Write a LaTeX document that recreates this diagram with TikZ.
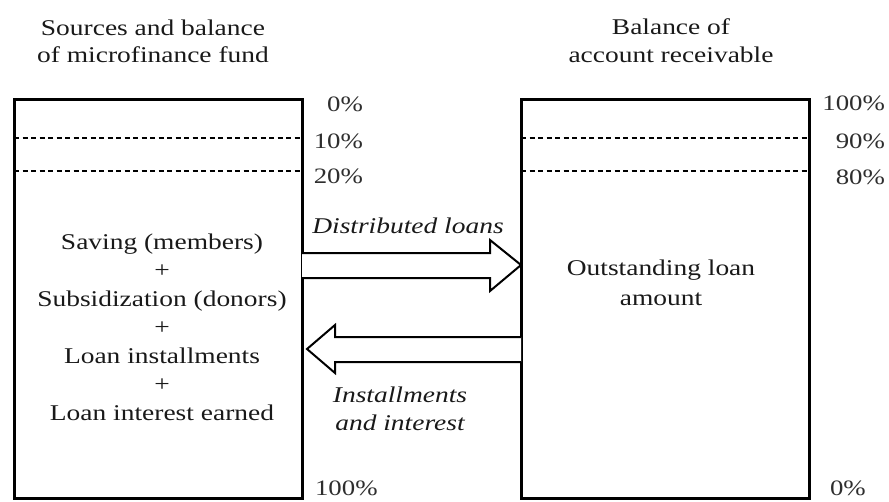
\documentclass[tikz,border=0pt]{standalone}
\usepackage{fontspec}
\setmainfont{Liberation Serif}[FakeStretch=1.22]
\begin{document}
\begin{tikzpicture}[x=1pt,y=-1pt,
  every node/.style={inner sep=0pt, outer sep=0pt},
  lbl/.style={font=\fontsize{22.5}{27}\selectfont, text=black!90},
  itl/.style={font=\fontsize{22.5}{27}\selectfont\itshape, text=black!90},
  pct/.style={font=\fontsize{22}{26}\selectfont, text=black!82},
  frame/.style={draw, line width=3pt, minimum width=288pt, minimum height=399pt, anchor=north west},
  divider/.style={line width=1.4pt, dash pattern=on 5pt off 3.5pt},
  flow/.style={draw, line width=2pt, line join=miter, fill=white}]
\useasboundingbox (0,0) rectangle (889,501);
\clip (0,0) rectangle (889,501);

% the two balance columns
\node[frame] (fund) at (14,99) {};
\node[frame] (recv) at (521,99) {};

% 10% / 20% bands
\draw[divider] (fund.west |- 0,138) -- (fund.east |- 0,138);
\draw[divider] (fund.west |- 0,171) -- (fund.east |- 0,171);
\draw[divider] (recv.west |- 0,138) -- (recv.east |- 0,138);
\draw[divider] (recv.west |- 0,171) -- (recv.east |- 0,171);

% column titles
\node[lbl, anchor=base] (t1a) at (153,35) {Sources and balance};
\node[lbl, anchor=base] (t1b) at (153,62) {of microfinance fund};
\node[lbl, anchor=base] (t2a) at (671,34) {Balance of};
\node[lbl, anchor=base] (t2b) at (671,62) {account receivable};

% scale marks
\node[pct, anchor=base east] (p0) at (363,111) {0\%};
\node[pct, anchor=base east] (p10) at (363,148) {10\%};
\node[pct, anchor=base east] (p20) at (363,183) {20\%};
\node[pct, anchor=base west] (p100) at (315,495) {100\%};
\node[pct, anchor=base east] (q100) at (885,110) {100\%};
\node[pct, anchor=base east] (q90) at (885,148) {90\%};
\node[pct, anchor=base east] (q80) at (885,184) {80\%};
\node[pct, anchor=base west] (q0) at (830,495) {0\%};

% fund contents
\node[lbl, anchor=base] (s1) at (162,249) {Saving (members)};
\node[lbl, anchor=base] (s2) at (162,277) {+};
\node[lbl, anchor=base] (s3) at (162,306) {Subsidization (donors)};
\node[lbl, anchor=base] (s4) at (162,334) {+};
\node[lbl, anchor=base] (s5) at (162,363) {Loan installments};
\node[lbl, anchor=base] (s6) at (162,391) {+};
\node[lbl, anchor=base] (s7) at (162,420) {Loan interest earned};

% receivable contents
\node[lbl, anchor=base] (r1) at (661,275) {Outstanding loan};
\node[lbl, anchor=base] (r2) at (661,305) {amount};

% flows between the columns
\draw[flow] (fund.east |- 0,253) -- (490,253) -- (490,240)
  -- (recv.west |- 0,265) -- (490,291) -- (490,278) -- (fund.east |- 0,278);
\draw[flow] (recv.west |- 0,337) -- (335,337) -- (335,325)
  -- ([xshift=5pt]fund.east |- 0,349) -- (335,373) -- (335,362) -- (recv.west |- 0,362);

\node[itl, anchor=base] (f1) at (408,233) {Distributed loans};
\node[itl, anchor=base] (f2) at (400,402) {Installments};
\node[itl, anchor=base] (f3) at (400,430) {and interest};
\end{tikzpicture}
\end{document}
